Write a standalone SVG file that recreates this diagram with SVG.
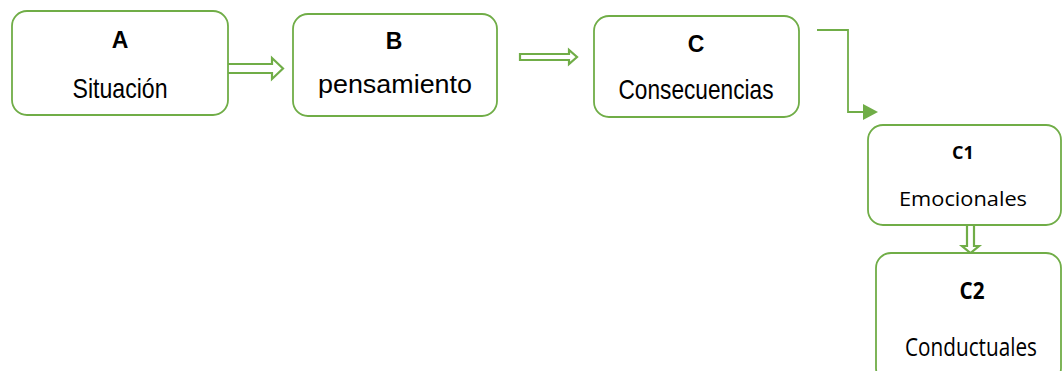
<svg xmlns="http://www.w3.org/2000/svg" width="1063" height="371" viewBox="0 0 1063 371">
<style>
.box{fill:#fff;stroke:#70AD47;stroke-width:1.8}
.ar{font-family:"Liberation Sans",Arial,sans-serif;fill:#000;text-anchor:middle}
.b{font-weight:bold}
.cal{font-family:"Open Sans","Liberation Sans",sans-serif;fill:#000;text-anchor:middle}
.hollow{fill:#fff;stroke:#70AD47;stroke-width:2.2;stroke-linejoin:miter}
.line{fill:none;stroke:#70AD47;stroke-width:1.8}
.head{fill:#70AD47}
</style>
<rect width="1063" height="371" fill="#fff"/>
<g id="connectors">
<polygon class="hollow" points="227,64 272,64 272,58 283,68.5 272,79 272,73 227,73"/>
<polygon class="hollow" points="520,54 569,54 569,50 577,57 569,64 569,60 520,60"/>
<polyline class="line" points="817,30 848,30 848,112 864,112"/>
<polygon class="head" points="863,104 878,112 863,120"/>
<polygon class="hollow" points="967,225 967,246 962,246 970.5,253 979,246 974,246 974,225"/>
</g>
<g id="nodeA">
<rect class="box" x="12" y="11" width="216" height="104" rx="15"/>
<text class="ar b" x="120" y="48" font-size="23">A</text>
<text class="ar" x="120" y="98" font-size="28" textLength="95" lengthAdjust="spacingAndGlyphs">Situación</text>
</g>
<g id="nodeB">
<rect class="box" x="293" y="14" width="204" height="102" rx="15"/>
<text class="ar b" x="394" y="49" font-size="23">B</text>
<text class="ar" x="395" y="93" font-size="26" textLength="154" lengthAdjust="spacingAndGlyphs">pensamiento</text>
</g>
<g id="nodeC">
<rect class="box" x="594" y="16" width="205" height="101" rx="15"/>
<text class="ar b" x="696" y="52" font-size="23">C</text>
<text class="ar" x="696" y="99" font-size="28" textLength="155" lengthAdjust="spacingAndGlyphs">Consecuencias</text>
</g>
<g id="nodeC1">
<rect class="box" x="868" y="125" width="193" height="100" rx="15"/>
<text class="cal b" x="963" y="159" font-size="18">C1</text>
<text class="cal" x="963" y="206" font-size="20" textLength="128" lengthAdjust="spacingAndGlyphs">Emocionales</text>
</g>
<g id="nodeC2">
<rect class="box" x="876" y="253" width="185" height="130" rx="15"/>
<text class="cal b" x="972" y="299" font-size="23" textLength="25" lengthAdjust="spacingAndGlyphs">C2</text>
<text class="cal" x="971" y="356" font-size="25" textLength="132" lengthAdjust="spacingAndGlyphs">Conductuales</text>
</g>
</svg>
